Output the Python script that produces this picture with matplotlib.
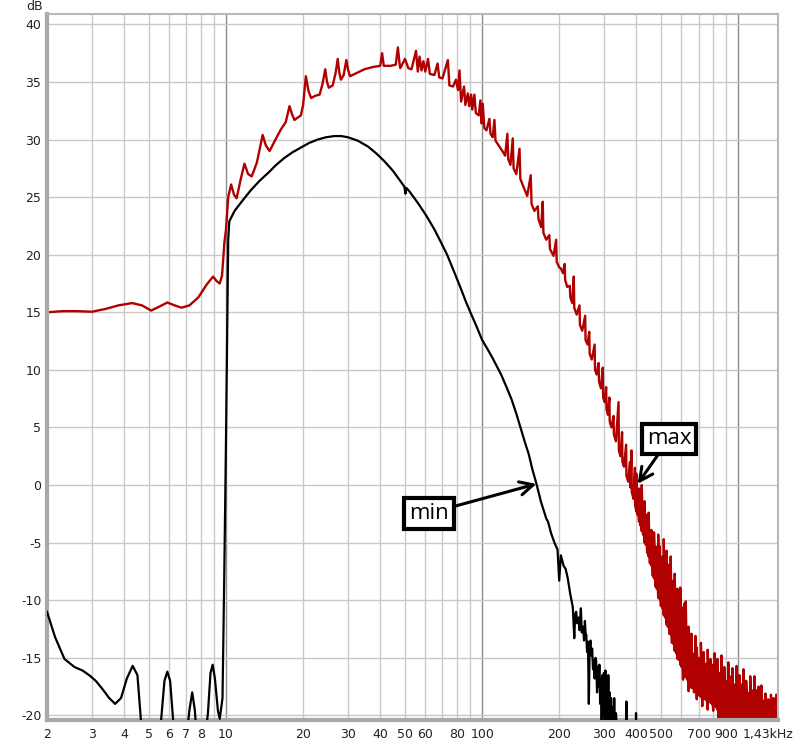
import numpy as np
import matplotlib
matplotlib.use("Agg")
import matplotlib.pyplot as plt
import matplotlib.transforms as mtransforms

plt.rcParams['axes.unicode_minus'] = False

# ---- red trace ("max"), 2 Hz .. 400 Hz, read point by point
red_f = [2.0, 2.3, 2.6, 3.0, 3.4, 3.8, 4.3, 4.7, 5.1, 5.5, 5.9, 6.3, 6.7, 7.2, 7.8, 8.4,
         8.9, 9.2, 9.45, 9.65, 9.85, 10.0, 10.2, 10.47, 10.75, 11.0, 11.4, 11.8, 12.2,
         12.6, 13.2, 13.9, 14.3, 14.8, 15.6, 16.4, 17.1, 17.7, 18.1, 18.5, 19.6, 20.0,
         20.5, 21.0, 21.5, 22.3, 23.2, 23.8, 24.4, 24.8, 25.2, 26.1, 26.8, 27.3, 27.7,
         28.1, 28.8, 29.5, 30.0, 30.5, 32.5, 34.7, 37.5, 40.0, 40.7, 41.3, 44.0, 46.0,
         46.9, 47.6, 47.9, 50.0, 51.5, 53.0, 55.2, 56.1, 57.0, 58.0, 59.0, 60.0, 61.5,
         62.5, 65.1, 67.0, 68.0, 70.0, 73.5, 74.5, 77.0, 79.0, 80.5, 81.6, 82.8, 85.0,
         86.0, 88.0, 89.0, 90.6, 91.5, 93.3, 94.5, 97.0, 98.5, 99.5, 100.6, 102, 104,
         106.8, 107.8, 110, 111.7, 112.8, 116, 120, 123, 125.5, 126.5, 129, 131.7, 132.7,
         136, 140, 141, 145, 150, 154.8, 156, 160, 165, 166, 170, 172.5, 173.5, 178, 183,
         184, 190, 194.6, 195.5, 200, 203, 207, 210, 211, 215, 220, 221, 225, 228, 229,
         234, 240, 241, 246, 252.6, 253.5, 258, 262, 263, 268, 275, 276, 280, 285, 286,
         291, 296, 297, 301, 305, 306, 310, 314, 315, 320, 326, 327, 333, 341, 342, 347,
         352, 353, 358, 365, 366, 372, 378, 379, 383, 384, 390, 395, 396]
red_db = [15.0, 15.1, 15.1, 15.05, 15.3, 15.6, 15.8, 15.6, 15.15, 15.5, 15.85, 15.6, 15.4,
          15.6, 16.3, 17.4, 18.1, 17.7, 17.5, 18.2, 21.0, 22.2, 25.0, 26.1, 25.2, 24.9,
          26.5, 27.9, 27.0, 26.8, 28.0, 30.4, 29.5, 29.0, 30.0, 30.9, 31.5, 32.9, 32.2,
          31.7, 32.1, 33.0, 35.5, 34.2, 33.6, 33.8, 33.9, 34.8, 36.1, 35.0, 34.5, 34.7,
          35.8, 37.0, 35.8, 35.2, 35.6, 36.9, 36.0, 35.5, 35.8, 36.1, 36.3, 36.4, 37.5,
          36.4, 36.4, 36.5, 38.0, 36.6, 36.2, 37.0, 36.2, 36.1, 37.7, 35.9, 37.2, 36.0,
          36.8, 35.9, 37.0, 35.7, 35.6, 36.6, 35.4, 35.3, 36.9, 34.7, 34.6, 35.2, 34.3,
          36.0, 33.3, 34.6, 33.0, 34.0, 32.9, 33.9, 32.6, 33.9, 32.3, 32.1, 33.4, 31.4,
          33.1, 31.0, 30.8, 31.8, 30.5, 30.2, 31.7, 29.9, 29.5, 29.0, 28.6, 30.5, 28.3,
          27.8, 30.1, 27.5, 27.0, 29.2, 26.6, 25.9, 25.1, 26.9, 24.4, 23.8, 24.2, 23.1,
          22.4, 24.6, 21.9, 21.3, 21.7, 20.5, 19.9, 21.3, 19.4, 18.9, 18.8, 18.4, 19.2,
          17.8, 17.2, 17.3, 16.3, 15.8, 18.1, 15.4, 14.8, 15.6, 13.9, 13.4, 14.7, 12.6,
          12.2, 13.3, 11.4, 10.9, 12.2, 10.0, 9.6, 10.6, 9.0, 8.4, 10.2, 7.6, 7.2, 8.5,
          6.6, 6.1, 7.6, 5.5, 5.0, 6.0, 4.4, 3.8, 7.2, 3.0, 2.5, 4.6, 2.0, 1.6, 3.5, 0.8,
          0.3, 2.0, -0.2, 3.0, -0.6, -1.2, 1.5, -1.8]

# ---- red trace above 400 Hz: dense noise, each position has a low and a high value
red_hf_f = [400, 405, 410, 415, 420, 425, 431, 436, 441, 447, 452, 458, 464, 469, 475,
            481, 487, 493, 499, 506, 512, 518, 525, 531, 538, 545, 551, 558, 565, 572,
            579, 587, 594, 601, 609, 616, 624, 632, 640, 648, 656, 664, 672, 681, 689,
            698, 706, 715, 724, 733, 742, 751, 760, 770, 779, 789, 799, 809, 819, 829,
            839, 850, 860, 871, 882, 893, 904, 915, 926, 938, 949, 961, 973, 985, 997,
            1010, 1022, 1035, 1048, 1061, 1074, 1087, 1101, 1114, 1128, 1143, 1157, 1171,
            1186, 1201, 1215, 1231, 1246, 1261, 1277, 1293, 1309, 1326, 1342, 1359, 1375,
            1393, 1410, 1428, 1440]
red_hf_lo = [-2.3, -2.6, -3.2, -3.5, -4.0, -4.3, -5.0, -5.2, -5.9, -6.2, -6.8, -7.0, -7.9,
             -8.1, -8.8, -9.0, -9.8, -9.9, -10.5, -10.7, -11.3, -11.5, -12.1, -12.3, -12.9,
             -13.0, -13.7, -13.8, -14.4, -14.6, -15.1, -15.2, -15.6, -15.8, -16.9, -16.3,
             -16.7, -16.9, -17.9, -17.3, -17.6, -17.6, -18.0, -17.9, -18.6, -18.1, -18.3,
             -18.4, -19.2, -18.5, -18.6, -18.7, -19.5, -18.8, -18.9, -19.0, -19.6, -19.1,
             -19.3, -19.5, -20.3, -19.7, -20.5, -20.0, -21.0, -20.2, -21.0, -20.3, -21.5,
             -20.4, -21.0, -20.3, -21.2, -20.5, -21.0, -20.4, -21.0, -20.6, -21.3, -20.5,
             -21.0, -20.6, -21.2, -20.5, -21.0, -20.6, -21.3, -20.5, -21.0, -20.6, -21.2,
             -20.5, -21.0, -20.6, -21.3, -20.5, -21.0, -20.6, -21.2, -20.5, -21.0, -20.6,
             -21.2, -20.5, -21.0]
red_hf_hi = [1.0, -1.5, -0.3, -1.2, 0.0, -3.5, -1.4, -2.6, -4.6, -2.4, -4.6, -3.9, -7.0,
             -4.1, -5.3, -6.6, -4.3, -5.3, -7.6, -6.2, -4.7, -6.9, -5.7, -9.1, -6.9, -6.2,
             -9.3, -8.3, -7.7, -11.7, -9.0, -10.7, -8.9, -10.6, -12.7, -10.3, -10.1, -13.1,
             -12.3, -16.0, -12.9, -14.6, -15.9, -13.1, -14.1, -16.9, -15.0, -13.7, -16.1,
             -14.5, -17.2, -15.5, -14.3, -17.0, -15.1, -18.3, -15.6, -14.6, -16.7, -15.1,
             -18.0, -16.3, -14.8, -17.7, -15.8, -17.0, -18.9, -15.4, -16.6, -17.9, -15.9,
             -18.9, -17.3, -15.7, -17.9, -16.5, -18.9, -17.3, -16.0, -18.8, -17.0, -18.0,
             -19.8, -16.6, -17.8, -19.0, -16.6, -17.8, -19.8, -17.5, -18.9, -17.4, -19.7,
             -18.7, -18.1, -19.8, -18.6, -19.4, -18.2, -19.8, -18.5, -19.2, -18.2, -19.0,
             -18.5]

# ---- black trace ("min")
blk_f = [2.0, 2.15, 2.34, 2.56, 2.75, 2.92, 3.1, 3.29, 3.5, 3.69, 3.89, 4.1, 4.32, 4.51,
         4.6, 4.75, 5.3, 5.55, 5.75, 5.9, 6.05, 6.22, 6.5, 7.0, 7.2, 7.38, 7.55, 7.7, 8.2,
         8.5, 8.7, 8.87, 9.05, 9.3, 9.45, 9.69, 9.84, 10.0, 10.2, 10.3, 10.8, 11.6, 12.5,
         13.5, 14.6, 15.7, 16.9, 18.2, 19.6, 21.1, 22.8, 24.6, 26.5, 28.2, 29.9, 32.7,
         35.8, 38.6, 41.6, 44.8, 48.3, 49.7, 50.2, 50.6, 52, 56.1, 60.5, 65.1, 69, 73,
         77.8, 82.8, 86.5, 90, 95, 100, 105, 110, 118.6, 124, 130, 136, 142, 147, 152,
         157, 163, 170, 178, 181, 186, 191.6, 197, 200, 203, 208, 212, 216, 221, 226, 228,
         229, 231, 233, 235, 238, 240, 243, 245, 248, 250, 252, 254, 255, 257, 259, 261,
         263, 265, 267, 269, 271, 273, 275, 277, 279, 281, 283, 285, 287, 289, 291, 293,
         295, 297, 299, 301, 303, 305, 307, 309, 311, 313, 315, 317, 319, 322, 324, 326,
         328, 330, 333, 336, 365, 366, 367, 398, 399, 400]
blk_db = [-11.0, -13.2, -15.1, -15.8, -16.1, -16.5, -17.0, -17.7, -18.5, -19.0, -18.5,
          -16.8, -15.7, -16.5, -19.0, -23.0, -26.0, -21.0, -17.0, -16.2, -17.0, -20.5,
          -25.0, -22.0, -19.5, -18.0, -19.5, -22.0, -23.0, -19.8, -16.3, -15.6, -16.8,
          -19.6, -20.3, -18.5, -8.1, 4.0, 21.3, 22.9, 23.8, 24.7, 25.6, 26.4, 27.1, 27.8,
          28.4, 28.9, 29.3, 29.7, 30.0, 30.2, 30.3, 30.3, 30.2, 29.9, 29.4, 28.8, 28.1,
          27.3, 26.3, 25.9, 25.3, 25.8, 25.5, 24.5, 23.4, 22.2, 21.1, 20.0, 18.5, 17.0,
          15.9, 15.0, 13.8, 12.6, 11.8, 11.0, 9.6, 8.6, 7.5, 6.2, 4.8, 3.7, 2.7, 1.4, 0.1,
          -1.5, -2.9, -3.2, -4.2, -5.0, -5.6, -8.3, -6.1, -7.0, -7.3, -8.1, -9.5, -10.6,
          -12.5, -13.3, -11.2, -11.0, -12.0, -11.5, -12.6, -10.7, -12.8, -12.3, -13.5,
          -11.8, -13.2, -13.0, -14.5, -13.6, -19.0, -14.0, -13.5, -14.8, -14.2, -16.0,
          -15.2, -16.8, -15.0, -15.3, -18.0, -15.8, -17.5, -15.6, -19.0, -16.8, -21.0,
          -16.5, -20.0, -16.3, -21.0, -16.1, -19.5, -17.8, -21.0, -16.5, -21.0, -18.0,
          -21.0, -18.5, -21.0, -19.3, -21.0, -18.5, -21.0, -19.8, -21.0, -21.0, -18.8,
          -21.0, -21.0, -19.8, -21.0]

x_ticks = [2, 3, 4, 5, 6, 7, 8, 10, 20, 30, 40, 50, 60, 80, 100, 200, 300, 400, 500,
           700, 900, 1430]
x_labels = ['2', '3', '4', '5', '6', '7', '8', '10', '20', '30', '40', '50', '60',
            '80', '100', '200', '300', '400', '500', '700', '900', '1,43kHz']
y_ticks = list(range(-20, 41, 5))

# interleave low/high values of the noisy part
hf_f = np.repeat(red_hf_f, 2)
hf_db = np.column_stack([red_hf_lo, red_hf_hi]).ravel()
rf = np.concatenate([red_f, hf_f])
rdb = np.concatenate([red_db, hf_db])

fig = plt.figure(figsize=(8, 7.42), dpi=100)
ax = fig.add_axes([47 / 800, 22 / 742, 731 / 800, 706 / 742])
ax.set_xscale('log')
ax.set_xlim(2, 1430)
ax.set_ylim(-20.4, 40.9)

# grid
grid_x = [m * d for d in (1, 10, 100, 1000) for m in range(1, 10) if 2 <= m * d <= 1430]
for g in grid_x:
    c = '#8c8c8c' if g in (10, 100, 1000) else '#c8c8c8'
    ax.axvline(g, color=c, lw=1.0, zorder=0)
for yv in y_ticks:
    ax.axhline(yv, color='#c8c8c8', lw=1.0, zorder=0)

ax.plot(rf, rdb, color='#b00000', lw=1.7, zorder=2)
ax.plot(blk_f, blk_db, color='black', lw=1.6, zorder=3)

ax.set_xticks(x_ticks, x_labels)
ax.set_xticks([], minor=True)
ax.set_yticks(y_ticks, [str(v) for v in y_ticks])
ax.tick_params(axis='both', length=0, labelsize=9, colors='#222222')
ax.tick_params(axis='x', pad=6)
ax.tick_params(axis='y', pad=4)

# pull the last label ("1,43kHz") a little to the left so it stays inside
last = ax.get_xticklabels()[-1]
last.set_transform(last.get_transform()
                   + mtransforms.ScaledTranslation(-0.1, 0, fig.dpi_scale_trans))

for s in ('left', 'bottom'):
    ax.spines[s].set_color('#a8a8a8')
    ax.spines[s].set_linewidth(3)
for s in ('top', 'right'):
    ax.spines[s].set_color('#b8b8b8')
    ax.spines[s].set_linewidth(1.5)

fig.text(35 / 800, 1 - 6 / 742, 'dB', fontsize=9, color='#222222', ha='center', va='center')

box = dict(boxstyle='square,pad=0.22', fc='white', ec='black', lw=3)
arrow = dict(arrowstyle='->', lw=2.2, color='black', mutation_scale=24, shrinkA=0, shrinkB=0)
ax.annotate('min', xy=(163, 0.1), xytext=(62, -2.45), fontsize=16, family='Open Sans',
            ha='center', va='center', bbox=box, arrowprops=arrow, zorder=5)
ax.annotate('max', xy=(405, 0.1), xytext=(537, 4.0), fontsize=16, family='Open Sans',
            ha='center', va='center', bbox=box, arrowprops=arrow, zorder=5)

fig.savefig('out.png', dpi=100)
